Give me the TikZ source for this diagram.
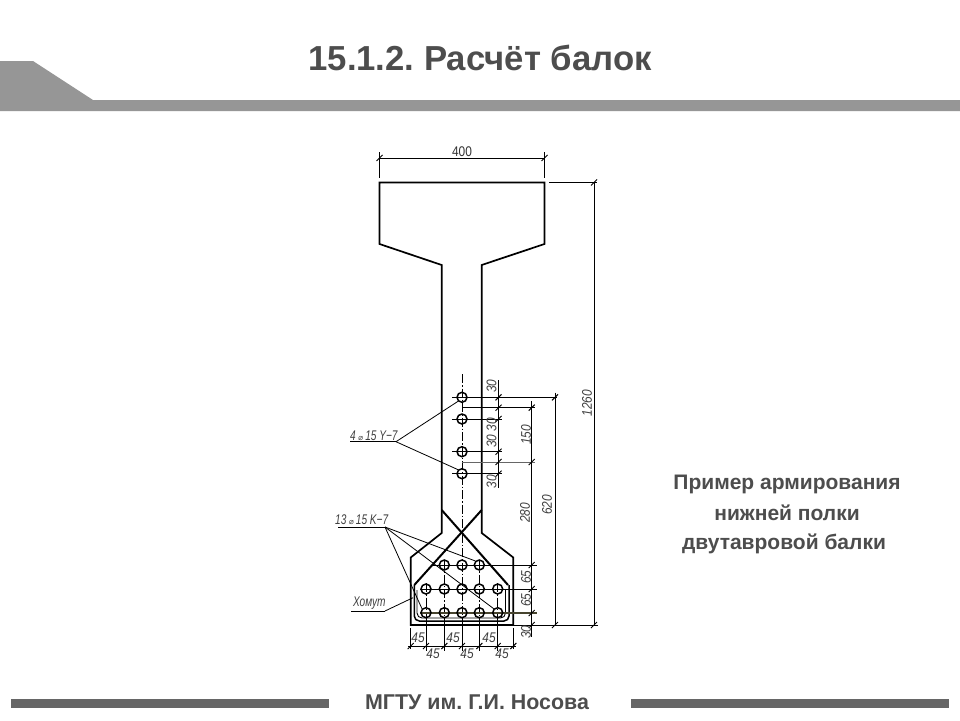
\documentclass[tikz,border=0pt]{standalone}
\usepackage{fontspec}
\usepackage{graphicx}
\setmainfont{Liberation Sans}
\newfontfamily\symfont{DejaVu Sans}
\usetikzlibrary{calc}
\definecolor{barcol}{HTML}{969696}
\definecolor{footcol}{HTML}{666666}
\definecolor{titlecol}{HTML}{4D4D4D}
\tikzset{
  x=1pt,y=-1pt,
  outline/.style={line width=1.7pt,black,line join=miter},
  thick x/.style={line width=2pt,black},
  stirrup/.style={line width=1.5pt,black,rounded corners=5pt},
  dim/.style={line width=.9pt,black},
  ext/.style={line width=.8pt,black},
  axisl/.style={line width=.7pt,black,dash pattern=on 9pt off 2pt on 1.5pt off 2pt},
  rebar/.style={circle,draw=black,line width=1.5pt,minimum size=10pt,inner sep=0pt},
  cad/.style={inner sep=0pt,font=\fontsize{14}{16}\selectfont\itshape,text=black!75},
  captiontext/.style={font=\fontsize{21}{25}\selectfont\bfseries,text=titlecol},
  tick/.style={line width=1pt,black},
}
\newcommand{\dtick}[1]{\draw[tick] ($(#1)+(-3,3)$) -- ($(#1)+(3,-3)$);}
\newcommand{\nar}[1]{\scalebox{.72}[1]{#1}}
\newcommand{\wid}[1]{\scalebox{.85}[1]{#1}}
\newcommand{\dia}{{\symfont\fontsize{8}{10}\selectfont\raisebox{.5pt}{⌀}}}
\begin{document}
\frenchspacing
\begin{tikzpicture}
\useasboundingbox (0,0) rectangle (960,720);
\fill[white] (0,0) rectangle (960,720);
% header and footer
\fill[barcol] (0,61) -- (33,61) -- (93,100) -- (960,100) -- (960,111) -- (0,111) -- cycle;
\fill[footcol] (11,699) rectangle (329,708);
\fill[footcol] (631,699) rectangle (949,708);
\node[inner sep=0pt,text=titlecol,font=\fontsize{34.7}{40}\selectfont\bfseries] (title) at (480,58) {15.1.2. Расчёт балок};
\node[inner sep=0pt,text=titlecol,font=\fontsize{21.4}{25}\selectfont\bfseries] (footer) at (477,702) {МГТУ им. Г.И. Носова};
\node[captiontext] (cap1) at (787,484) {Пример армирования};
\node[captiontext] (cap2) at (787,513) {нижней полки};
\node[captiontext] (cap3) at (784,544) {двутавровой балки};
% beam outline
\draw[outline] (379.5,182.5) -- (544.5,182.5) -- (544.5,244) -- (481.7,265) -- (481.7,533) -- (513.3,557.5) -- (513.3,625) -- (410.7,625) -- (410.7,557.5) -- (441.7,533) -- (441.7,265) -- (379.5,244) -- cycle;
% stirrup
\draw[thick x] (441.7,510) -- (508,585);
\draw[thick x] (481.7,510) -- (414.3,585);
\draw[stirrup] (414.3,585) -- (414.3,621) -- (509,621) -- (509,585);
\draw[stirrup,line width=.9pt] (417,590) -- (417,618) -- (505.5,618) -- (505.5,590);
% axes
\draw[axisl] (462,374) -- (462,625);
\draw[axisl] (426,583) -- (426,625);
\draw[axisl] (444.3,560) -- (444.3,625);
\draw[axisl] (479.3,560) -- (479.3,625);
\draw[axisl] (497.7,583) -- (497.7,625);
% horizontal leaders of the bars
\draw[ext] (452,397.3) -- (557,397.3);
\draw[ext] (462,407.7) -- (535,407.7);
\draw[ext] (452,419) -- (502,419);
\draw[ext] (452,451.7) -- (502,451.7);
\draw[ext,line width=.6pt,black!60] (462,462) -- (535,462);
\draw[ext] (452,473.7) -- (502,473.7);
\draw[ext] (432,565) -- (536.5,565);
\draw[ext] (420,589) -- (536.5,589);
\draw[line width=1.1pt,black!65!olive] (420,613) -- (536.5,613);
\draw[ext] (513.3,625) -- (598,625);
\draw[ext] (549,182.5) -- (597,182.5);
% bars
\foreach \n/\x/\y in {a/462/397.3,b/462/419,c/462/451.7,d/462/473.7,
  e/444.3/565,f/462/565,g/479.3/565,
  h/426/589,i/444.3/589,j/462/589,k/479.3/589,l/497.7/589,
  m/426/612.7,n/444.3/612.7,o/462/612.7,p/479.3/612.7,q/497.7/612.7}
  \node[rebar] (bar\n) at (\x,\y) {};
% bottom extension lines
\draw[ext] (410.7,628) -- (410.7,649);
\draw[ext] (513.3,628) -- (513.3,649);
\foreach \n in {m,n,o,p,q} \draw[ext] (bar\n.south) -- ++(0,33);
% vertical dimension chains
\draw[dim] (498.5,380) -- (498.5,488);
\draw[dim] (531.7,401) -- (531.7,637);
\draw[dim] (555,392.5) -- (555,625);
\draw[dim] (594,182.5) -- (594,625);
% ticks
\foreach \a/\b in {498.5/397.3,498.5/407.7,498.5/419,498.5/451.7,498.5/462,498.5/473.7,
  531.7/407.7,531.7/462,531.7/565,531.7/589,531.7/613,531.7/625,
  555/397.3,555/625,594/182.5,594/625}
  {\dtick{\a,\b}}
% top dimension
\draw[ext] (379.5,152) -- (379.5,178);
\draw[ext] (544.5,152) -- (544.5,178);
\draw[dim] (379.5,158) -- (544.5,158);
\dtick{379.5,158}\dtick{544.5,158}
\node[inner sep=0pt,font=\fontsize{14}{16}\selectfont,text=black!80] (d400) at (462,151.5) {\wid{400}};
% bottom dimension
\draw[dim] (408,646) -- (516,646);
\foreach \x in {410.7,426,444.3,462,479.3,497.7,513.3} {\dtick{\x,646}}
\foreach \n/\x/\y in {t1/418/638,t2/453/638,t3/489/638,t4/433/654,t5/467/654,t6/502/654}
  \node[cad] (\n) at (\x,\y) {\wid{45}};
% vertical dimension labels
\foreach \n/\x/\y/\t in {v1/491.5/386/30,v2/491.5/424.5/30,v3/491.5/441/30,v4/491.5/481.5/30,
  v5/526/435/150,v6/525/513/280,v7/526/577/65,v8/526/600/65,v9/526/632/30,
  v10/547/505/620}
  \node[cad,rotate=90] (\n) at (\x,\y) {\wid{\t}};
\node[cad,rotate=90] (v1200) at (587,403) {\wid{1260}};
% labels with shelves
\node[cad,anchor=south west] (l4) at (350,441) {\nar{4}\,\dia\,\nar{15 Y−7}};
\coordinate (s1a) at (350,441.7); \coordinate (s1b) at (396,441.7);
\draw[dim] (s1a) -- (s1b);
\draw[ext] (s1b) -- (bara.south west);
\draw[ext] (s1b) -- (bard.north west);
\node[cad,anchor=south west] (l13) at (335,525) {\nar{13}\,\dia\,\nar{15 K−7}};
\coordinate (s2a) at (338,527); \coordinate (s2b) at (385,527);
\draw[dim] (s2a) -- (s2b);
\draw[ext] (s2b) -- (barg.north west);
\draw[ext] (s2b) -- (barq.north west);
\draw[ext] (s2b) -- (barm.north west);
\node[cad,anchor=south west] (lh) at (353,610) {\nar{Хомут}};
\coordinate (s3a) at (351,611); \coordinate (s3b) at (385,611);
\draw[dim] (s3a) -- (s3b);
\coordinate (s3c) at (413,597.7);
\draw[ext] (s3b) -- (s3c);
\end{tikzpicture}
\end{document}
